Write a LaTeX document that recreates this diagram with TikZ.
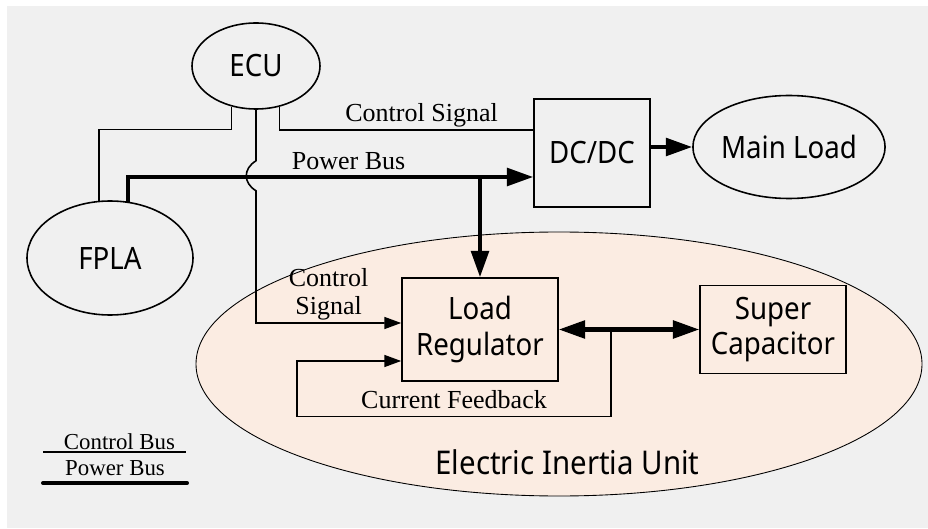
\documentclass[tikz,border=0pt]{standalone}
\usepackage{fontspec}
\setmainfont[FakeStretch=0.9]{Noto Sans}
\newfontfamily\sigfont{Liberation Serif}
\usetikzlibrary{arrows.meta,calc,shapes.geometric}
\definecolor{bggray}{HTML}{F0F0F0}
\definecolor{eiupeach}{HTML}{FBECE2}

\begin{document}
\begin{tikzpicture}[scale=1.0,>={Triangle[length=9.6pt,width=6.8pt]},
  unit/.style={draw,ellipse,line width=0.9pt,inner sep=0pt,font=\fontsize{17.5}{20.4}\selectfont},
  blk/.style={draw,rectangle,line width=0.9pt,inner sep=0pt,align=center,font=\fontsize{17.5}{20.4}\selectfont},
  cbus/.style={line width=0.9pt},
  pbus/.style={line width=2.3pt},
  ptip/.style={-{Triangle[length=15pt,width=10pt]}},
  sig/.style={font=\sigfont\fontsize{14.8}{16}\selectfont,inner sep=1pt},
  leg/.style={font=\sigfont\fontsize{13}{14}\selectfont,inner sep=1pt}]
  \useasboundingbox (0,0) rectangle (18.56,10.56);
  \fill[bggray] (0.14,0) rectangle (18.56,10.44);

  % units and blocks
  \node[draw,ellipse,fill=eiupeach,line width=0.5pt,minimum width=14.52cm,minimum height=5.28cm] (eiu) at (11.18,3.28) {};
  \node[font=\fontsize{18.6}{22}\selectfont] (eiulbl) at (11.35,1.32) {Electric Inertia Unit};
  \node[unit,minimum width=2.56cm,minimum height=1.72cm] (ecu) at (5.12,9.24) {ECU};
  \node[unit,minimum width=3.32cm,minimum height=2.28cm] (fpla) at (2.2,5.4) {FPLA};
  \node[blk,minimum width=2.32cm,minimum height=2.16cm] (dcdc) at (11.84,7.5) {DC/DC};
  \node[unit,minimum width=3.08cm,minimum height=2.06cm] (mload) at (15.78,7.62) {Main Load};
  \node[blk,minimum width=3.12cm,minimum height=2.06cm] (lreg) at (9.6,3.97) {Load\\Regulator};
  \node[blk,minimum width=2.92cm,minimum height=1.76cm] (scap) at (15.46,3.97) {Super\\Capacitor};

  % control lines
  \draw[cbus] (ecu.239) -- ++(0,-0.46) -| (fpla.101);
  \draw[cbus] (ecu.300) |- node[sig,pos=0.78,above]{Control Signal} ($(dcdc.west)+(0,0.46)$);
  \draw[cbus,->] (ecu.south) -- ($(ecu.south)+(0,-1.02)$)
    .. controls ($(ecu.south)+(-0.26,-1.18)$) and ($(ecu.south)+(-0.26,-1.46)$) .. ($(ecu.south)+(0,-1.62)$)
    |- node[sig,pos=0.75,above,align=center]{Control\\Signal} ($(lreg.west)+(0,0.13)$);

  % power bus
  \coordinate (pb) at ($(dcdc.west)+(0,-0.48)$);
  \draw[pbus,ptip] (fpla.72) |- node[sig,pos=0.772,above=2pt]{Power Bus} (pb);
  \draw[pbus,ptip] (lreg.north |- pb) -- (lreg.north);
  \draw[pbus,ptip] (dcdc.east |- mload.west) -- (mload.west);
  \draw[pbus,{Triangle[length=15pt,width=10pt]}-{Triangle[length=15pt,width=10pt]}] (lreg.east) -- (scap.west);

  % current feedback
  \coordinate (fb) at ($(lreg.east)+(1.04,0)$);
  \coordinate (fbc) at ($(lreg.west)+(-2.08,-1.74)$);
  \draw[cbus,->] (fb) |- node[sig,pos=0.75,above=3pt]{Current Feedback} (fbc) |- ($(lreg.west)+(0,-0.63)$);

  % legend
  \coordinate (cl1) at (0.86,1.52);
  \coordinate (cl2) at (3.72,1.52);
  \draw[cbus] (cl1) -- node[leg,above,xshift=0.1cm]{Control Bus} (cl2);
  \coordinate (pl1) at (0.86,0.9);
  \coordinate (pl2) at (3.74,0.9);
  \draw[pbus,line cap=round] (pl1) -- node[leg,above=2pt]{Power Bus} (pl2);
\end{tikzpicture}
\end{document}
